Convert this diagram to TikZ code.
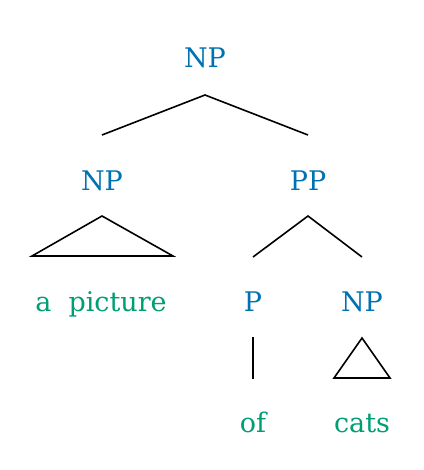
\documentclass[tikz,border=0pt]{standalone}
\usepackage{fontspec}
\setmainfont{DejaVu Serif}
\definecolor{catblue}{HTML}{0072B2}
\definecolor{wordgreen}{HTML}{009E73}
\begin{document}
\begin{tikzpicture}[x=1pt,y=-1pt,
  cat/.style={text=catblue,anchor=base,inner sep=0pt,font=\fontsize{27}{32}\selectfont},
  word/.style={text=wordgreen,anchor=base,inner sep=0pt,font=\fontsize{27}{32}\selectfont},
  edge/.style={draw=black,line width=1.6pt},
  tri/.style={draw=black,line width=1.6pt,line join=miter}]
\useasboundingbox (0,0) rectangle (423,470);
% nodes
\node[cat] (np0) at (205,68) {NP};
\node[cat] (np1) at (102,190) {NP};
\node[cat] (pp) at (308,190) {PP};
\node[word] (apic) at (101,311) {a\ \ picture};
\node[cat] (p) at (253,311) {P};
\node[cat] (np2) at (362,311) {NP};
\node[word] (of) at (253,432) {of};
\node[word] (cats) at (362,432) {cats};
% connector points
\coordinate (np0b) at (205,95);
\coordinate (np1t) at (102,135);
\coordinate (ppt) at (308,135);
\coordinate (np1b) at (102,216);
\coordinate (apicl) at (32,256);
\coordinate (apicr) at (173,256);
\coordinate (ppb) at (308,216);
\coordinate (pt) at (253,257);
\coordinate (np2t) at (362,257);
\coordinate (pb) at (253,337);
\coordinate (oft) at (253,379);
\coordinate (np2b) at (362,338);
\coordinate (catsl) at (334,378);
\coordinate (catsr) at (390,378);
% edges
\draw[edge] (np1t) -- (np0b) -- (ppt);
\draw[tri] (np1b) -- (apicl) -- (apicr) -- cycle;
\draw[edge] (pt) -- (ppb) -- (np2t);
\draw[edge] (pb) -- (oft);
\draw[tri] (np2b) -- (catsl) -- (catsr) -- cycle;
\end{tikzpicture}
\end{document}
